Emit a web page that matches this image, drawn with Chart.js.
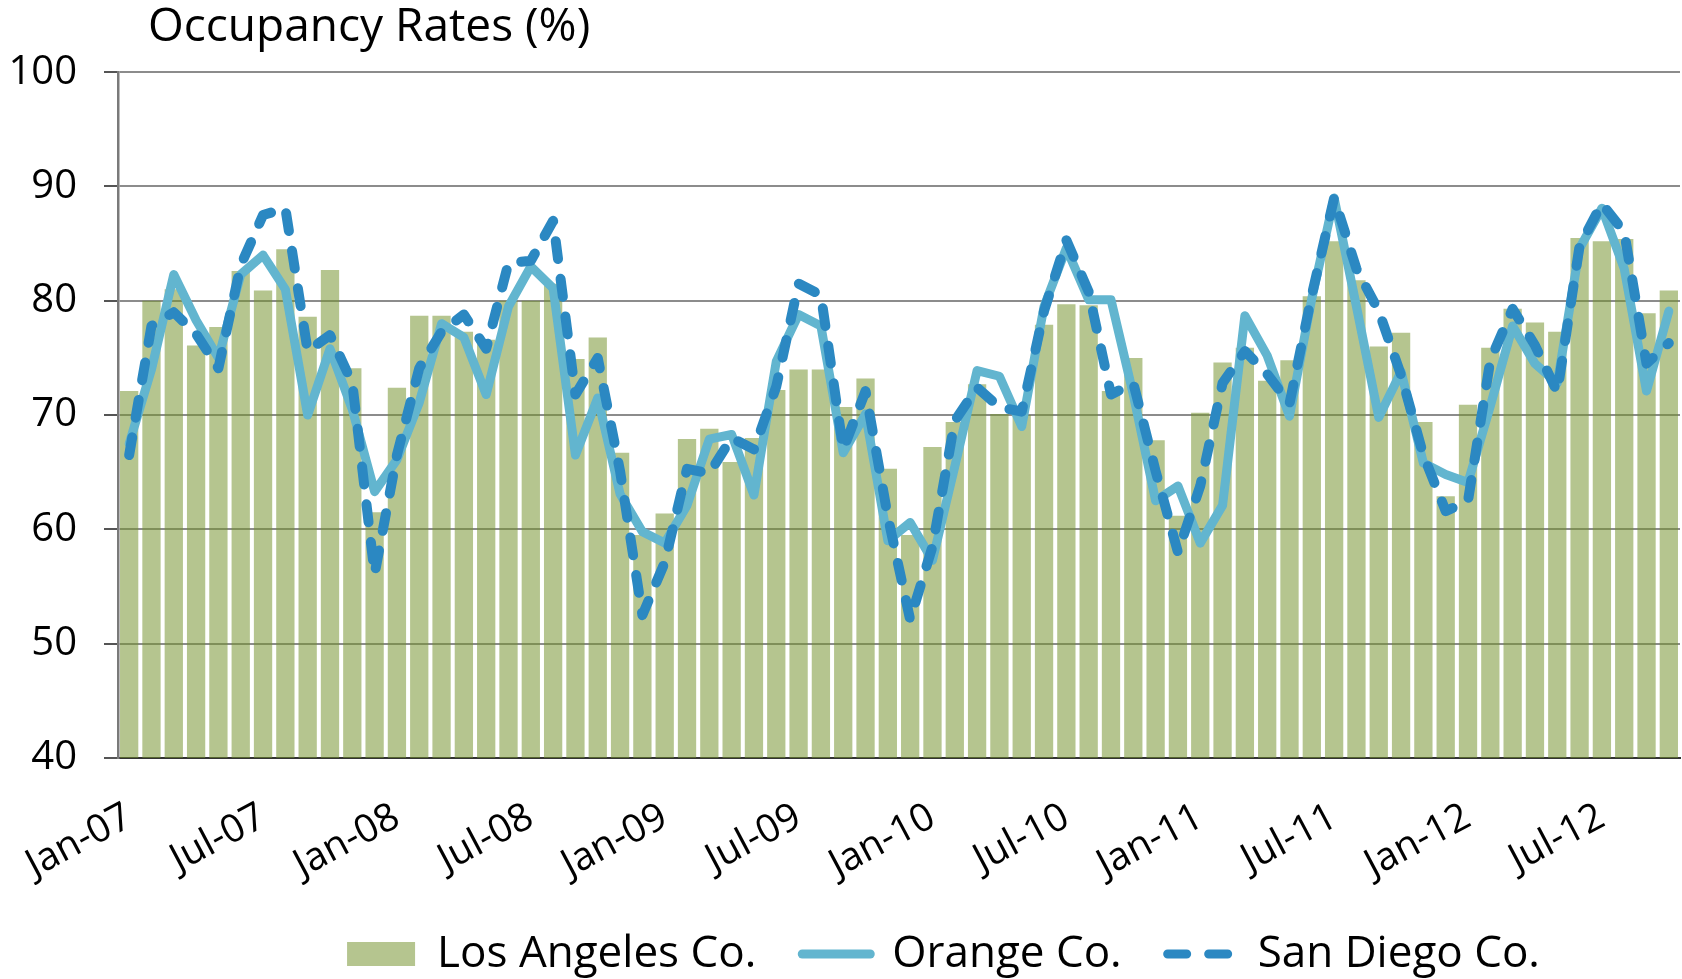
<!DOCTYPE html>
<html>
<head>
<meta charset="utf-8">
<script src="https://cdn.jsdelivr.net/npm/chart.js@4.4.1/dist/chart.umd.min.js"></script>
<style>
  html, body { margin: 0; padding: 0; background: #fff; }
  #wrap { width: 1682px; height: 979px; position: relative; }
</style>
</head>
<body>
<div id="wrap"><canvas id="myChart"></canvas></div>
<script>
// monthly categories, Jan-07 .. Oct-12
const categories = [
  'Jan-07','Feb-07','Mar-07','Apr-07','May-07','Jun-07','Jul-07','Aug-07','Sep-07','Oct-07','Nov-07','Dec-07',
  'Jan-08','Feb-08','Mar-08','Apr-08','May-08','Jun-08','Jul-08','Aug-08','Sep-08','Oct-08','Nov-08','Dec-08',
  'Jan-09','Feb-09','Mar-09','Apr-09','May-09','Jun-09','Jul-09','Aug-09','Sep-09','Oct-09','Nov-09','Dec-09',
  'Jan-10','Feb-10','Mar-10','Apr-10','May-10','Jun-10','Jul-10','Aug-10','Sep-10','Oct-10','Nov-10','Dec-10',
  'Jan-11','Feb-11','Mar-11','Apr-11','May-11','Jun-11','Jul-11','Aug-11','Sep-11','Oct-11','Nov-11','Dec-11',
  'Jan-12','Feb-12','Mar-12','Apr-12','May-12','Jun-12','Jul-12','Aug-12','Sep-12','Oct-12'
];
const tickLabels = ['Jan-07','Jul-07','Jan-08','Jul-08','Jan-09','Jul-09','Jan-10','Jul-10','Jan-11','Jul-11','Jan-12','Jul-12'];
const yTicks = [40, 50, 60, 70, 80, 90, 100];

const losAngeles = [
  72.1, 80.0, 81.0, 76.1, 77.7, 82.6, 80.9, 84.5, 78.6, 82.7, 74.1, 61.5,
  72.4, 78.7, 78.7, 77.3, 76.6, 80.0, 80.0, 81.5, 74.9, 76.8, 66.7, 59.5,
  61.4, 67.9, 68.8, 65.9, 68.0, 72.2, 74.0, 74.0, 70.7, 73.2, 65.3, 59.5,
  67.2, 69.4, 72.7, 70.1, 70.0, 77.9, 79.7, 79.6, 72.1, 75.0, 67.8, 61.2,
  70.2, 74.6, 75.9, 73.0, 74.8, 80.4, 85.2, 81.8, 76.0, 77.2, 69.4, 62.9,
  70.9, 75.9, 79.3, 78.1, 77.3, 85.5, 85.2, 85.4, 78.9, 80.9
];
const orange = [
  67.5, 74.0, 82.3, 78.3, 75.0, 82.3, 84.0, 81.0, 70.0, 75.8, 70.5, 63.3,
  66.1, 71.1, 78.0, 76.8, 71.8, 79.5, 83.0, 81.1, 66.5, 71.5, 63.1, 59.8,
  58.8, 62.1, 67.9, 68.3, 63.0, 74.7, 78.8, 77.8, 66.7, 70.1, 59.0, 60.6,
  57.3, 65.5, 73.9, 73.4, 69.0, 79.5, 84.6, 80.1, 80.1, 71.8, 62.5, 63.8,
  58.8, 62.1, 78.7, 75.2, 69.9, 80.2, 89.0, 79.5, 69.8, 73.8, 65.8, 64.8,
  64.1, 70.8, 77.8, 74.5, 72.8, 84.6, 88.1, 82.8, 72.1, 79.1
];
const sanDiego = [
  66.5, 77.8, 79.0, 77.1, 74.1, 83.1, 87.5, 88.1, 75.6, 77.0, 72.8, 56.1,
  66.5, 74.1, 77.3, 78.8, 75.8, 83.3, 83.5, 87.0, 71.8, 75.0, 65.1, 52.5,
  57.1, 65.3, 64.9, 68.0, 67.0, 72.5, 81.5, 80.5, 67.0, 72.1, 61.1, 52.1,
  58.5, 69.5, 72.4, 70.7, 70.3, 79.1, 85.3, 80.8, 71.8, 72.8, 65.1, 58.0,
  63.8, 72.8, 75.6, 73.6, 71.0, 80.5, 89.0, 82.8, 79.1, 73.5, 66.5, 61.6,
  62.5, 74.8, 79.3, 76.1, 72.0, 84.8, 88.5, 86.0, 74.5, 76.3
];

const FONT = "'Open Sans', 'DejaVu Sans', sans-serif";

// nudge title and legend like the original layout, and let the
// rotated month labels draw below the (shortened) x axis box
const shiftBlocks = {
  id: 'shiftBlocks',
  afterLayout(chart) {
    if (chart.titleBlock) { chart.titleBlock.left += 30; chart.titleBlock.right += 30; }
    if (chart.legend) { chart.legend.left += 100; chart.legend.right += 100; }
    chart.scales.x.bottom += 60;
  }
};

let ctx = document.getElementById('myChart').getContext('2d');
let myChart = new Chart(ctx, {
  type: 'bar',
  data: {
    labels: categories,
    datasets: [
      {
        type: 'line',
        label: 'San Diego Co.',
        data: sanDiego,
        borderColor: '#2b88c2',
        backgroundColor: '#2b88c2',
        borderWidth: 10,
        borderDash: [18, 20],
        borderCapStyle: 'round',
        borderJoinStyle: 'round',
        pointRadius: 0,
        tension: 0,
        order: 0,
        legendDash: [19, 22]
      },
      {
        type: 'line',
        label: 'Orange Co.',
        data: orange,
        borderColor: '#62b5cf',
        backgroundColor: '#62b5cf',
        borderWidth: 9,
        borderJoinStyle: 'round',
        borderCapStyle: 'round',
        pointRadius: 0,
        tension: 0,
        order: 1
      },
      {
        label: 'Los Angeles Co.',
        data: losAngeles,
        backgroundColor: 'rgba(115, 146, 44, 0.53)',
        borderWidth: 0,
        barPercentage: 0.82,
        categoryPercentage: 1.0,
        order: 2
      }
    ]
  },
  plugins: [shiftBlocks],
  options: {
    responsive: true,
    maintainAspectRatio: false,
    animation: false,
    layout: { autoPadding: false, padding: { left: 7, right: 2, top: 0, bottom: 0 } },
    plugins: {
      title: {
        display: true,
        text: 'Occupancy Rates (%)',
        align: 'start',
        fullSize: false,
        color: '#000',
        font: { family: FONT, size: 46, weight: 'normal' },
        padding: { top: 0, bottom: 17 }
      },
      tooltip: { enabled: false },
      legend: {
        position: 'bottom',
        reverse: true,
        maxHeight: 93,
        labels: {
          usePointStyle: true,
          pointStyleWidth: 68,
          boxHeight: 24,
          padding: 46,
          color: '#000',
          font: { family: FONT, size: 44 },
          generateLabels: (chart) => chart.data.datasets.map((ds, i) => ({
            text: ds.label,
            fillStyle: ds.backgroundColor,
            strokeStyle: ds.borderColor || ds.backgroundColor,
            lineWidth: ds.type === 'line' ? 9 : 0,
            lineDash: ds.legendDash || [],
            lineCap: 'round',
            pointStyle: ds.type === 'line' ? 'line' : 'rect',
            fontColor: '#000',
            hidden: false,
            datasetIndex: i
          }))
        }
      }
    },
    scales: {
      x: {
        grid: { display: false },
        border: { display: true, color: '#333', width: 2 },
        afterFit: (scale) => { scale.paddingLeft = 0; scale.paddingRight = 0; scale.height = 128; },
        ticks: {
          autoSkip: false,
          maxRotation: 28,
          minRotation: 28,
          padding: 28,
          color: '#000',
          font: { family: FONT, size: 39 },
          callback: (v, i) => tickLabels.includes(categories[i]) ? categories[i] : ''
        }
      },
      y: {
        min: yTicks[0],
        max: yTicks[yTicks.length - 1],
        afterBuildTicks: (axis) => { axis.ticks = yTicks.map(v => ({ value: v })); },
        afterFit: (scale) => { scale.width = 111; },
        grid: { color: '#8c8c8c', lineWidth: 2, tickLength: 14, tickColor: '#555' },
        border: { display: true, color: '#7a7a7a', width: 2.5 },
        ticks: {
          padding: 27,
          color: '#000',
          font: { family: FONT, size: 40 }
        }
      }
    }
  }
});
</script>
</body>
</html>
